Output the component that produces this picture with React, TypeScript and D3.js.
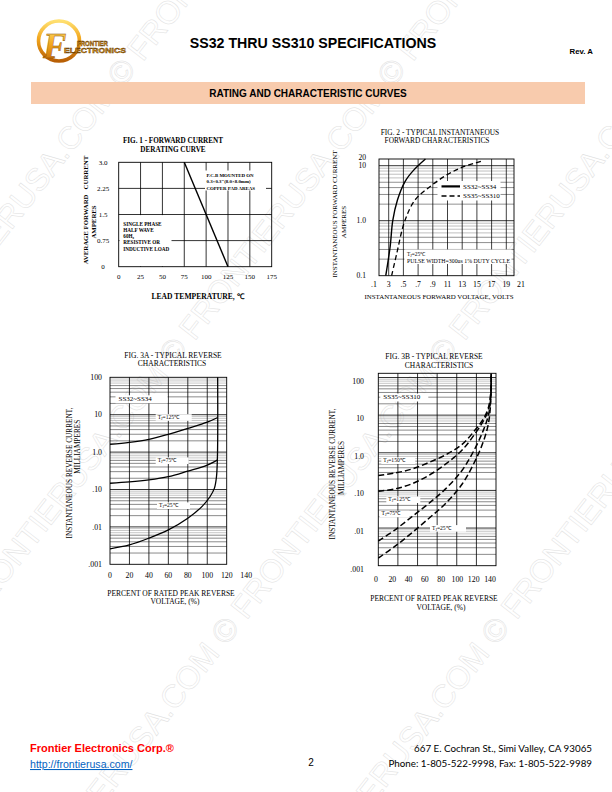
import * as d3 from 'd3';

type Pt = [number, number];

const SERIF = '"Liberation Serif", "Times New Roman", Times, serif';
const SANS = '"Liberation Sans", Arial, Helvetica, sans-serif';

// ---------- Fig. 1 - forward current derating ----------
const fig1TempTicks = [0, 25, 50, 75, 100, 125, 150, 175];
const fig1AmpTicks = [0, 0.75, 1.5, 2.25, 3.0];
const fig1AmpLabels = ['0', '0.75', '1.5', '2.25', '3.0'];
const fig1Derating: Pt[] = [[75, 3.0], [125, 0]];

// ---------- Fig. 2 - forward characteristics ----------
const fig2VoltTicks = [0.1, 0.3, 0.5, 0.7, 0.9, 1.1, 1.3, 1.5, 1.7, 1.9, 2.1];
const fig2VoltLabels = ['.1', '3', '.5', '.7', '.9', '11', '13', '15', '17', '19', '21'];
const fig2AmpTicks = [0.1, 1, 10, 20];
const fig2AmpLabels = ['0.1', '1.0', '10', '20'];
const fig2SS32toSS34: Pt[] = [[0.26, 0.1], [0.32, 0.34], [0.355, 1.0], [0.42, 2.4], [0.52, 5.1], [0.64, 8.3], [0.8, 20]];
const fig2SS35toSS310: Pt[] = [[0.34, 0.1], [0.41, 0.255], [0.52, 1.0], [0.66, 2.4], [0.86, 4.15], [1.09, 6.8], [1.32, 9.6], [1.59, 16.8]];

// ---------- Fig. 3 - reverse characteristics ----------
const fig3PctTicks = [0, 20, 40, 60, 80, 100, 120, 140];
const fig3CurrTicks = [100, 10, 1, 0.1, 0.01, 0.001];
const fig3CurrLabels = ['100', '10', '1.0', '.10', '.01', '.001'];

const fig3aGridPct = [20, 40, 60, 80, 100];
const fig3aTj125: Pt[] = [[0, 1.62], [20, 1.83], [40, 2.2], [60, 3.0], [80, 4.3], [100, 6.3], [110.8, 8.4]];
const fig3aTj75: Pt[] = [[0, 0.147], [20, 0.159], [40, 0.18], [60, 0.22], [80, 0.31], [100, 0.45], [110.8, 0.62]];
const fig3aTj25: Pt[] = [[0, 0.0026], [20, 0.0033], [40, 0.005], [60, 0.0083], [80, 0.017], [95, 0.036], [102.8, 0.064], [107.3, 0.107], [109.5, 0.22], [110.5, 0.8], [110.8, 5], [110.7, 100]];

const fig3bGridPct = [23.3, 46.7, 70, 93.3, 116.7];
const fig3bTj150: Pt[] = [[0, 0.25], [20, 0.29], [40, 0.37], [60, 0.55], [80, 0.88], [100, 1.7], [115, 4], [125, 8], [131, 16], [133.8, 40], [134.3, 127]];
const fig3bTj125: Pt[] = [[0, 0.095], [20, 0.11], [40, 0.15], [60, 0.25], [80, 0.5], [100, 1.2], [115, 3.2], [125, 7], [131, 14], [133.8, 35], [134.3, 127]];
const fig3bTj75: Pt[] = [[0, 0.0045], [20, 0.009], [40, 0.02], [60, 0.045], [80, 0.11], [100, 0.35], [115, 1.3], [125, 4], [131, 10], [133.8, 30], [134.3, 127]];
const fig3bTj25: Pt[] = [[0, 0.0016], [20, 0.0033], [40, 0.0075], [60, 0.018], [80, 0.045], [100, 0.15], [115, 0.6], [125, 2], [131, 6], [133.8, 25], [134.3, 127]];

// ---------- watermark ----------
const watermarkText = 'FRONTIERUSA.COM © ';
const watermarkX400 = [-121, 149, 419, 689, 959];

// log-decade gridline values between lo and hi (inclusive)
function logGrid(lo: number, hi: number) {
  const out: { v: number; m: number }[] = [];
  for (let d = lo; d < hi * 0.999; d *= 10) {
    for (let m = 1; m <= 9; m++) out.push({ v: d * m, m });
  }
  out.push({ v: hi, m: 1 });
  return out;
}

function TjLabel({ x, y, t, w }: { x: number; y: number; t: string; w: number }) {
  return (
    <g>
      <rect x={x - 2} y={y - 4.6} width={w} height={6.6} fill="#fff" />
      <text x={x} y={y} fontSize={5.6} fontFamily={SERIF}>
        T<tspan fontSize={3.8} dy={1}>J</tspan>
        <tspan dy={-1}>={t}℃</tspan>
      </text>
    </g>
  );
}

function Header() {
  return (
    <g>
      <defs>
        <linearGradient id="gold" x1="0" y1="0" x2="0" y2="1">
          <stop offset="0" stopColor="#ffe070" />
          <stop offset="0.45" stopColor="#f2a51c" />
          <stop offset="1" stopColor="#b85f05" />
        </linearGradient>
      </defs>
      <ellipse cx={59} cy={41} rx={20.5} ry={20} fill="none" stroke="url(#gold)" strokeWidth={3.6} />
      <text x={43} y={58} fontSize={35} fontStyle="italic" fontWeight="bold" fontFamily={SERIF} fill="url(#gold)" stroke="#8a4a00" strokeWidth={0.4}>
        F
      </text>
      <text x={77} y={45.5} fontSize={7.6} fontWeight="bold" fontFamily={SANS} fill="#f5a623" stroke="#5a3300" strokeWidth={0.45} textLength={31} lengthAdjust="spacingAndGlyphs">
        FRONTIER
      </text>
      <text x={64} y={53.2} fontSize={7.6} fontWeight="bold" fontFamily={SANS} fill="#f5a623" stroke="#5a3300" strokeWidth={0.45} textLength={62} lengthAdjust="spacingAndGlyphs">
        ELECTRONICS
      </text>

      <text x={313} y={48} textAnchor="middle" fontSize={14.2} fontWeight="bold" fontFamily={SANS} fill="#000">
        SS32 THRU SS310 SPECIFICATIONS
      </text>
      <text x={593} y={54} textAnchor="end" fontSize={7.8} fontWeight="bold" fontFamily={SANS} fill="#000">
        Rev. A
      </text>

      <rect x={31} y={82} width={554} height={22} fill="#f8cbad" />
      <text x={308} y={96.5} textAnchor="middle" fontSize={10} fontWeight="bold" fontFamily={SANS} fill="#000">
        RATING AND CHARACTERISTIC CURVES
      </text>
    </g>
  );
}

function Fig1() {
  const L = 118.7, R = 271.7, T = 162.3, B = 266.7;
  const x = d3.scaleLinear().domain([0, 175]).range([L, R]);
  const y = d3.scaleLinear().domain([0, 3]).range([B, T]);
  const line = d3.line<Pt>().x((d) => x(d[0])).y((d) => y(d[1]));
  return (
    <g fontFamily={SERIF} fill="#000">
      <text x={173} y={142.5} textAnchor="middle" fontSize={7.2} fontWeight="bold">FIG. 1 - FORWARD CURRENT</text>
      <text x={173} y={151.5} textAnchor="middle" fontSize={7.2} fontWeight="bold">DERATING CURVE</text>

      {fig1TempTicks.slice(1, -1).map((t) => (
        <line key={`v${t}`} x1={x(t)} x2={x(t)} y1={T} y2={B} stroke="#000" strokeWidth={0.8} />
      ))}
      {fig1AmpTicks.slice(1, -1).map((a) => (
        <line key={`h${a}`} x1={L} x2={R} y1={y(a)} y2={y(a)} stroke="#000" strokeWidth={0.8} />
      ))}

      {/* note boxes */}
      <rect x={L + 0.8} y={y(1.5) + 0.6} width={52} height={B - y(1.5) - 1.2} fill="#fff" />
      <rect x={205} y={170.5} width={61} height={20} fill="#fff" />
      <g fontWeight="bold" fontSize={4.9}>
        <text x={206.5} y={176.8}>P.C.B MOUNTED ON</text>
        <text x={206.5} y={183.2}>0.3×0.3"(8.0×8.0mm)</text>
        <text x={206.5} y={189.6}>COPPER PAD AREAS</text>
      </g>
      <g fontWeight="bold" fontSize={5.2}>
        <text x={123.3} y={225.5}>SINGLE PHASE</text>
        <text x={123.3} y={231.8}>HALF WAVE</text>
        <text x={123.3} y={237.6}>60H<tspan fontSize={3.6} dy={1}>z</tspan></text>
        <text x={123.3} y={244.2}>RESISTIVE OR</text>
        <text x={123.3} y={250.5}>INDUCTIVE LOAD</text>
      </g>

      <rect x={L} y={T} width={R - L} height={B - T} fill="none" stroke="#000" strokeWidth={0.9} />
      <path d={line(fig1Derating) ?? undefined} fill="none" stroke="#000" strokeWidth={1.4} />

      {fig1AmpTicks.map((a, i) => (
        <text key={`yl${a}`} x={103} y={y(a) + 2.4} textAnchor="middle" fontSize={7}>{fig1AmpLabels[i]}</text>
      ))}
      {fig1TempTicks.map((t) => (
        <text key={`xl${t}`} x={x(t)} y={278.6} textAnchor="middle" fontSize={7}>{t}</text>
      ))}
      <text x={198} y={299} textAnchor="middle" fontSize={7.6} fontWeight="bold">LEAD TEMPERATURE, ℃</text>
      <text transform="translate(85.7,210) rotate(-90)" dy="0.35em" textAnchor="middle" fontSize={6.8} fontWeight="bold" style={{ whiteSpace: 'pre' }}>
        AVERAGE FORWARD   CURRENT
      </text>
      <text transform="translate(93.6,222) rotate(-90)" dy="0.35em" textAnchor="middle" fontSize={6.8} fontWeight="bold">AMPERES</text>
    </g>
  );
}

function Fig2() {
  const L = 379, R = 514, T = 159, B = 275.7;
  const x = d3.scaleLinear().domain([0.1, 2.1]).range([374, 521]);
  const y = d3.scaleLog().domain([0.1, 10, 20]).range([B, B - 110, T]);
  const line = d3.line<Pt>().x((d) => x(d[0])).y((d) => y(d[1])).curve(d3.curveCatmullRom.alpha(0.5));
  const hGrid = logGrid(0.1, 10).filter((g) => g.v > 0.1001);
  return (
    <g fontFamily={SERIF} fill="#000">
      <text x={440} y={134.5} textAnchor="middle" fontSize={7.4}>FIG. 2 - TYPICAL INSTANTANEOUS</text>
      <text x={437} y={143} textAnchor="middle" fontSize={7.4}>FORWARD CHARACTERISTICS</text>

      {hGrid.map((g) => (
        <line key={`h${g.v}`} x1={L} x2={R} y1={y(g.v)} y2={y(g.v)} stroke={g.m === 1 ? '#000' : g.m >= 6 ? '#8a8a8a' : '#333'} strokeWidth={g.m === 1 ? 0.8 : 0.55} />
      ))}
      {fig2VoltTicks.filter((v) => x(v) > L + 1 && x(v) < R - 1).map((v) => (
        <line key={`v${v}`} x1={x(v)} x2={x(v)} y1={T} y2={B} stroke="#000" strokeWidth={0.75} />
      ))}
      <rect x={L} y={T} width={R - L} height={B - T} fill="none" stroke="#000" strokeWidth={0.9} />

      {/* legend */}
      <rect x={437.5} y={181} width={63} height={19.5} fill="#fff" />
      <line x1={441.5} x2={460} y1={186.4} y2={186.4} stroke="#000" strokeWidth={2.2} />
      <line x1={441.5} x2={460} y1={196} y2={196} stroke="#000" strokeWidth={1.4} strokeDasharray="5,3" />
      <text x={463} y={188.8} fontSize={7}>SS32~SS34</text>
      <text x={463} y={198.4} fontSize={7}>SS35~SS310</text>

      {/* test condition note */}
      <rect x={404.5} y={249.5} width={107} height={14.5} fill="#fff" />
      <text x={407} y={256.2} fontSize={5.4}>
        T<tspan fontSize={3.8} dy={1}>J</tspan>
        <tspan dy={-1}>=25℃</tspan>
      </text>
      <text x={407} y={263} fontSize={5.4} textLength={103} lengthAdjust="spacingAndGlyphs">PULSE WIDTH=300us 1% DUTY CYCLE</text>

      <path d={line(fig2SS32toSS34) ?? undefined} fill="none" stroke="#000" strokeWidth={1.4} />
      <path d={line(fig2SS35toSS310) ?? undefined} fill="none" stroke="#000" strokeWidth={1.3} strokeDasharray="5,3" />

      {fig2AmpTicks.map((a, i) => (
        <text key={`yl${a}`} x={366} y={y(a) + (a === 20 ? 0.8 : 2.7)} textAnchor="end" fontSize={7.6}>{fig2AmpLabels[i]}</text>
      ))}
      {fig2VoltTicks.map((v, i) => (
        <text key={`xl${v}`} x={x(v)} y={287} textAnchor="middle" fontSize={7.8}>{fig2VoltLabels[i]}</text>
      ))}
      <text x={439} y={298.5} textAnchor="middle" fontSize={6.9}>INSTANTANEOUS FORWARD VOLTAGE, VOLTS</text>
      <text transform="translate(335,214) rotate(-90)" dy="0.35em" textAnchor="middle" fontSize={7}>INSTANTANEOUS FORWARD CURRENT</text>
      <text transform="translate(343.3,222) rotate(-90)" dy="0.35em" textAnchor="middle" fontSize={7}>AMPERES</text>
    </g>
  );
}

interface Fig3Props {
  title: [string, string];
  titleX: [number, number];
  titleY: [number, number];
  box: { l: number; r: number; t: number; b: number };
  xDomainMax: number;
  yTop: number;
  labelRange: [number, number];
  labelY: number;
  yLabelX: number;
  yLabelDy: number;
  gridPct: number[];
  curves: Pt[][];
  dashed: boolean;
  series: { text: string; x: number; y: number; w: number };
  tj: { t: string; x: number; y: number; w: number }[];
  xTitle: { x: [number, number]; y: [number, number] };
  yTitle: { x: [number, number]; y: [number, number] };
}

function Fig3(p: Fig3Props) {
  const { l: L, r: R, t: T, b: B } = p.box;
  const x = d3.scaleLinear().domain([0, p.xDomainMax]).range([L, R]);
  const xl = d3.scaleLinear().domain([0, 140]).range(p.labelRange);
  const y = d3.scaleLog().domain([0.001, 100]).range([B, p.yTop]);
  const line = d3.line<Pt>().x((d) => x(d[0])).y((d) => y(d[1])).curve(d3.curveCatmullRom.alpha(0.5));
  const hGrid = logGrid(0.001, 100).filter((g) => y(g.v) > T + 0.5 && y(g.v) < B - 0.5);
  return (
    <g fontFamily={SERIF} fill="#000">
      <text x={p.titleX[0]} y={p.titleY[0]} textAnchor="middle" fontSize={7.5}>{p.title[0]}</text>
      <text x={p.titleX[1]} y={p.titleY[1]} textAnchor="middle" fontSize={7.5}>{p.title[1]}</text>

      {hGrid.map((g) => (
        <line key={`h${g.v}`} x1={L} x2={R} y1={y(g.v)} y2={y(g.v)} stroke={g.m === 1 ? '#000' : g.m >= 7 ? '#999' : '#2a2a2a'} strokeWidth={g.m === 1 ? 0.8 : 0.55} />
      ))}
      {p.gridPct.map((v) => (
        <line key={`v${v}`} x1={x(v)} x2={x(v)} y1={T} y2={B} stroke="#000" strokeWidth={0.8} />
      ))}
      <rect x={L} y={T} width={R - L} height={B - T} fill="none" stroke="#000" strokeWidth={0.9} />

      <rect x={p.series.x - 3} y={p.series.y - 5.5} width={p.series.w} height={8} fill="#fff" />
      <text x={p.series.x} y={p.series.y} fontSize={7}>{p.series.text}</text>
      {p.tj.map((t) => (
        <TjLabel key={t.t} x={t.x} y={t.y} t={t.t} w={t.w} />
      ))}

      {p.curves.map((c, i) => (
        <path key={i} d={line(c) ?? undefined} fill="none" stroke="#000" strokeWidth={p.dashed ? 1.5 : 1.3} strokeDasharray={p.dashed ? '6,3' : undefined} />
      ))}

      {fig3CurrTicks.map((v, i) => (
        <text key={`yl${v}`} x={p.yLabelX} y={y(v) + p.yLabelDy} textAnchor="end" fontSize={7.8}>{fig3CurrLabels[i]}</text>
      ))}
      {fig3PctTicks.map((v) => (
        <text key={`xl${v}`} x={xl(v)} y={p.labelY} textAnchor="middle" fontSize={7.8}>{v}</text>
      ))}
      <text x={p.xTitle.x[0]} y={p.xTitle.y[0]} textAnchor="middle" fontSize={7.5}>PERCENT OF RATED PEAK REVERSE</text>
      <text x={p.xTitle.x[1]} y={p.xTitle.y[1]} textAnchor="middle" fontSize={7.5}>VOLTAGE, (%)</text>
      <text transform={`translate(${p.yTitle.x[0]},${p.yTitle.y[0]}) rotate(-90)`} dy="0.35em" textAnchor="middle" fontSize={7.3}>INSTANTANEOUS REVERSE CURRENT,</text>
      <text transform={`translate(${p.yTitle.x[1]},${p.yTitle.y[1]}) rotate(-90)`} dy="0.35em" textAnchor="middle" fontSize={7.3}>MILLIAMPERES</text>
    </g>
  );
}

function Footer() {
  return (
    <g>
      <text x={30} y={752} fontSize={11} fontWeight="bold" fontFamily={SANS} fill="#ff0000">Frontier Electronics Corp.®</text>
      <text x={30} y={768} fontSize={10.6} fontFamily={SANS} fill="#0563c1" textDecoration="underline">http://frontierusa.com/</text>
      <text x={311} y={766} textAnchor="middle" fontSize={10} fontFamily={SANS} fill="#000">2</text>
      <text x={592} y={751.5} textAnchor="end" fontSize={9.8} fontFamily='Lato, "Liberation Sans", sans-serif' fill="#000">667 E. Cochran St., Simi Valley, CA 93065</text>
      <text x={592} y={767} textAnchor="end" fontSize={9.8} fontFamily='Lato, "Liberation Sans", sans-serif' fill="#000">Phone: 1-805-522-9998, Fax: 1-805-522-9989</text>
    </g>
  );
}

function Watermark() {
  const ang = (52 * Math.PI) / 180;
  return (
    <g pointerEvents="none" opacity={0.75}>
      {watermarkX400.map((x400) => {
        const y0 = 900;
        const x0 = x400 - ((y0 - 400) / Math.sin(ang)) * Math.cos(ang);
        return (
          <text key={x400} transform={`translate(${x0},${y0}) rotate(-52)`} fontSize={32} fontFamily={SANS} fill="none" stroke="#d6d6d6" strokeWidth={0.5} style={{ whiteSpace: 'pre' }}>
            {watermarkText.repeat(5)}
          </text>
        );
      })}
    </g>
  );
}

export default function App() {
  return (
    <div style={{ position: 'absolute', left: 0, top: 0 }}>
      <svg width={612} height={792} style={{ display: 'block', background: '#fff' }}>
        <Watermark />
        <Header />
        <Fig1 />
        <Fig2 />
        <Fig3
          title={['FIG. 3A - TYPICAL REVERSE', 'CHARACTERISTICS']}
          titleX={[173, 172]}
          titleY={[357.5, 365.5]}
          box={{ l: 110, r: 226.7, t: 377.3, b: 564.3 }}
          xDomainMax={120}
          yTop={377.3}
          labelRange={[110, 246.2]}
          labelY={578}
          yLabelX={102}
          yLabelDy={2.6}
          gridPct={fig3aGridPct}
          curves={[fig3aTj125, fig3aTj75, fig3aTj25]}
          dashed={false}
          series={{ text: 'SS32~SS34', x: 118.5, y: 400.8, w: 52 }}
          tj={[
            { t: '125', x: 157.7, y: 418.8, w: 36 },
            { t: '75', x: 157.7, y: 462, w: 33 },
            { t: '25', x: 159, y: 507, w: 33 },
          ]}
          xTitle={{ x: [171, 175], y: [595.5, 604] }}
          yTitle={{ x: [69, 77], y: [473, 446.7] }}
        />
        <Fig3
          title={['FIG. 3B - TYPICAL REVERSE', 'CHARACTERISTICS']}
          titleX={[434, 439]}
          titleY={[359, 367.5]}
          box={{ l: 378.3, r: 496, t: 373.3, b: 565.7 }}
          xDomainMax={140}
          yTop={377.5}
          labelRange={[376, 490]}
          labelY={582}
          yLabelX={364}
          yLabelDy={6}
          gridPct={fig3bGridPct}
          curves={[fig3bTj150, fig3bTj125, fig3bTj75, fig3bTj25]}
          dashed={true}
          series={{ text: 'SS35~SS310', x: 383.3, y: 399, w: 48 }}
          tj={[
            { t: '150', x: 383.3, y: 462, w: 34 },
            { t: '125', x: 388.3, y: 501, w: 34 },
            { t: '75', x: 381.5, y: 515.3, w: 30 },
            { t: '25', x: 432, y: 529.7, w: 36 },
          ]}
          xTitle={{ x: [434, 441], y: [601, 610] }}
          yTitle={{ x: [332, 341], y: [474, 468] }}
        />
        <Footer />
      </svg>
    </div>
  );
}
